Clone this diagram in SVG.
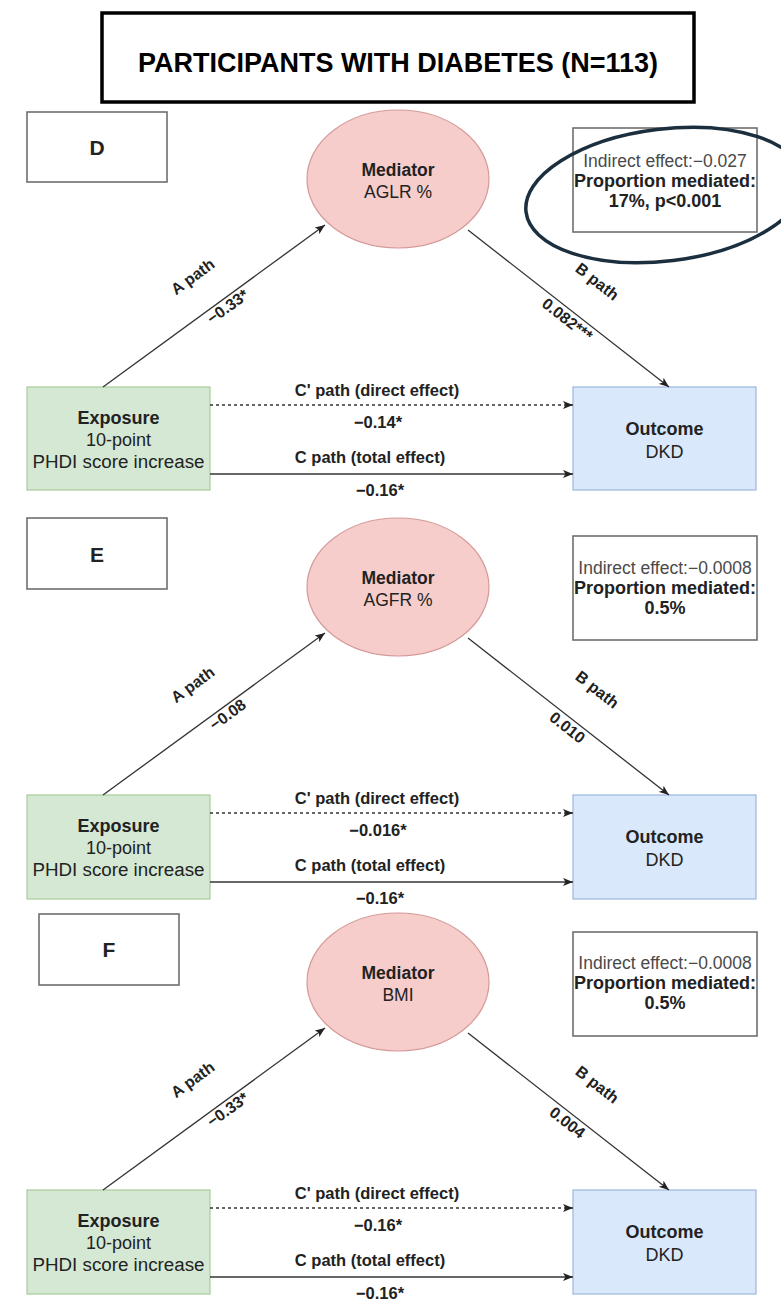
<svg xmlns="http://www.w3.org/2000/svg" width="781" height="1312" viewBox="0 0 781 1312">
<defs>
<marker id="arr" markerUnits="userSpaceOnUse" markerWidth="10" markerHeight="8" viewBox="0 0 10 8" refX="10" refY="4" orient="auto">
<path d="M0,0 L10,4 L0,8 L2.5,4 Z" fill="#222"/>
</marker>
<style>
text{font-family:"Liberation Sans",Arial,sans-serif;fill:#222;}
.b{font-weight:bold;}
.c{text-anchor:middle;}
.lbl{fill:#fff;stroke:#6f6f6f;stroke-width:1.6;}
.med{fill:#f6cdcb;stroke:#d49a98;stroke-width:1.2;}
.exp{fill:#d5e8d4;stroke:#a9cc9a;stroke-width:1.2;}
.out{fill:#dae8fc;stroke:#9cb6db;stroke-width:1.2;}
.ln{stroke:#333;stroke-width:1.3;fill:none;}
.dash{stroke-dasharray:3 3;}
.t18{font-size:18px;}
.t17{font-size:17.5px;}
.t16{font-size:16.5px;}
.t15{font-size:16px;}
.gr{fill:#4a4a4a;}
</style>
</defs>
<rect width="781" height="1312" fill="#fff"/>

<g id="title">
<rect x="102" y="13" width="592" height="89" fill="#fff" stroke="#000" stroke-width="3.5"/>
<text x="398" y="72" class="b c" font-size="27" textLength="520" lengthAdjust="spacingAndGlyphs" style="fill:#000">PARTICIPANTS WITH DIABETES (N=113)</text>
</g>

<!-- Panel D -->
<g id="panel-D" transform="translate(0,387)">
<g id="D-label"><rect class="lbl" x="27" y="-275" width="140" height="70"/><text x="97" y="-232" class="b c" font-size="21">D</text></g>
<g id="D-mediator"><ellipse class="med" cx="398" cy="-208" rx="91" ry="69"/><text x="398" y="-211" class="b c t17">Mediator</text><text x="398" y="-189" class="c t17">AGLR %</text></g>
<g id="D-indirect"><rect class="lbl" x="573" y="-259" width="184" height="104"/><text x="665" y="-220" class="c t17 gr">Indirect effect:−0.027</text><text x="665" y="-200" class="b c t18">Proportion mediated:</text><text x="665" y="-180" class="b c t18">17%, p&lt;0.001</text></g>
<g id="D-highlight"><ellipse cx="665" cy="-192" rx="140" ry="66" transform="rotate(-7 665 -192)" fill="none" stroke="#1b2f3f" stroke-width="3.5"/></g>
<g id="D-exposure"><rect class="exp" x="27" y="0" width="183" height="103"/><text x="118.5" y="37" class="b c t18">Exposure</text><text x="118.5" y="59" class="c t18">10-point</text><text x="118.5" y="81" class="c t18" textLength="172" lengthAdjust="spacingAndGlyphs">PHDI score increase</text></g>
<g id="D-outcome"><rect class="out" x="573" y="0" width="183" height="103"/><text x="664.5" y="48" class="b c t18">Outcome</text><text x="664.5" y="71" class="c t18">DKD</text></g>
</g>

<!-- Panel E -->
<g id="panel-E" transform="translate(0,795)">
<g id="E-label"><rect class="lbl" x="27" y="-277" width="140" height="71"/><text x="97" y="-233" class="b c" font-size="21">E</text></g>
<g id="E-mediator"><ellipse class="med" cx="398" cy="-208" rx="91" ry="69"/><text x="398" y="-211" class="b c t17">Mediator</text><text x="398" y="-189" class="c t17">AGFR %</text></g>
<g id="E-indirect"><rect class="lbl" x="573" y="-259" width="184" height="104"/><text x="665" y="-221" class="c t17 gr">Indirect effect:−0.0008</text><text x="665" y="-201" class="b c t18">Proportion mediated:</text><text x="665" y="-181" class="b c t18">0.5%</text></g>
<g id="E-exposure"><rect class="exp" x="27" y="0" width="183" height="104"/><text x="118.5" y="37" class="b c t18">Exposure</text><text x="118.5" y="59" class="c t18">10-point</text><text x="118.5" y="81" class="c t18" textLength="172" lengthAdjust="spacingAndGlyphs">PHDI score increase</text></g>
<g id="E-outcome"><rect class="out" x="573" y="0" width="183" height="104"/><text x="664.5" y="48" class="b c t18">Outcome</text><text x="664.5" y="71" class="c t18">DKD</text></g>
</g>

<!-- Panel F -->
<g id="panel-F" transform="translate(0,1190)">
<g id="F-label"><rect class="lbl" x="39" y="-276" width="140" height="71"/><text x="109" y="-233" class="b c" font-size="21">F</text></g>
<g id="F-mediator"><ellipse class="med" cx="398" cy="-208" rx="91" ry="69"/><text x="398" y="-211" class="b c t17">Mediator</text><text x="398" y="-189" class="c t17">BMI</text></g>
<g id="F-indirect"><rect class="lbl" x="573" y="-258" width="184" height="104"/><text x="665" y="-221" class="c t17 gr">Indirect effect:−0.0008</text><text x="665" y="-201" class="b c t18">Proportion mediated:</text><text x="665" y="-181" class="b c t18">0.5%</text></g>
<g id="F-exposure"><rect class="exp" x="27" y="0" width="183" height="104"/><text x="118.5" y="37" class="b c t18">Exposure</text><text x="118.5" y="59" class="c t18">10-point</text><text x="118.5" y="81" class="c t18" textLength="172" lengthAdjust="spacingAndGlyphs">PHDI score increase</text></g>
<g id="F-outcome"><rect class="out" x="573" y="0" width="183" height="104"/><text x="664.5" y="48" class="b c t18">Outcome</text><text x="664.5" y="71" class="c t18">DKD</text></g>
</g>

<g id="connectors">
<g transform="translate(0,387)">
<line class="ln" x1="103" y1="0" x2="325" y2="-162" marker-end="url(#arr)"/>
<line class="ln" x1="468" y1="-157" x2="669" y2="0" marker-end="url(#arr)"/>
<line class="ln dash" x1="210" y1="18" x2="573" y2="18" marker-end="url(#arr)"/>
<line class="ln" x1="210" y1="87" x2="573" y2="87" marker-end="url(#arr)"/>
<text class="b c t15" transform="translate(193,-110) rotate(-36)" dy="5">A path</text>
<text class="b c t15" transform="translate(228,-80) rotate(-36)" dy="5">−0.33*</text>
<text class="b c t15" transform="translate(597,-105) rotate(38)" dy="5">B path</text>
<text class="b c t15" transform="translate(567,-67) rotate(38)" dy="5">0.082***</text>
<text x="377" y="9" class="b c t16">C' path (direct effect)</text>
<text x="378" y="41" class="b c t16">−0.14*</text>
<text x="370" y="76" class="b c t16">C path (total effect)</text>
<text x="380" y="109" class="b c t16">−0.16*</text>
</g>
<g transform="translate(0,795)">
<line class="ln" x1="103" y1="0" x2="325" y2="-162" marker-end="url(#arr)"/>
<line class="ln" x1="468" y1="-157" x2="669" y2="0" marker-end="url(#arr)"/>
<line class="ln dash" x1="210" y1="18" x2="573" y2="18" marker-end="url(#arr)"/>
<line class="ln" x1="210" y1="87" x2="573" y2="87" marker-end="url(#arr)"/>
<text class="b c t15" transform="translate(193,-110) rotate(-36)" dy="5">A path</text>
<text class="b c t15" transform="translate(228,-80) rotate(-36)" dy="5">−0.08</text>
<text class="b c t15" transform="translate(597,-105) rotate(38)" dy="5">B path</text>
<text class="b c t15" transform="translate(567,-67) rotate(38)" dy="5">0.010</text>
<text x="377" y="9" class="b c t16">C' path (direct effect)</text>
<text x="378" y="41" class="b c t16">−0.016*</text>
<text x="370" y="76" class="b c t16">C path (total effect)</text>
<text x="380" y="109" class="b c t16">−0.16*</text>
</g>
<g transform="translate(0,1190)">
<line class="ln" x1="103" y1="0" x2="325" y2="-162" marker-end="url(#arr)"/>
<line class="ln" x1="468" y1="-157" x2="669" y2="0" marker-end="url(#arr)"/>
<line class="ln dash" x1="210" y1="18" x2="573" y2="18" marker-end="url(#arr)"/>
<line class="ln" x1="210" y1="87" x2="573" y2="87" marker-end="url(#arr)"/>
<text class="b c t15" transform="translate(193,-110) rotate(-36)" dy="5">A path</text>
<text class="b c t15" transform="translate(228,-80) rotate(-36)" dy="5">−0.33*</text>
<text class="b c t15" transform="translate(597,-105) rotate(38)" dy="5">B path</text>
<text class="b c t15" transform="translate(567,-67) rotate(38)" dy="5">0.004</text>
<text x="377" y="9" class="b c t16">C' path (direct effect)</text>
<text x="378" y="41" class="b c t16">−0.16*</text>
<text x="370" y="76" class="b c t16">C path (total effect)</text>
<text x="380" y="109" class="b c t16">−0.16*</text>
</g>
</g>
</svg>
